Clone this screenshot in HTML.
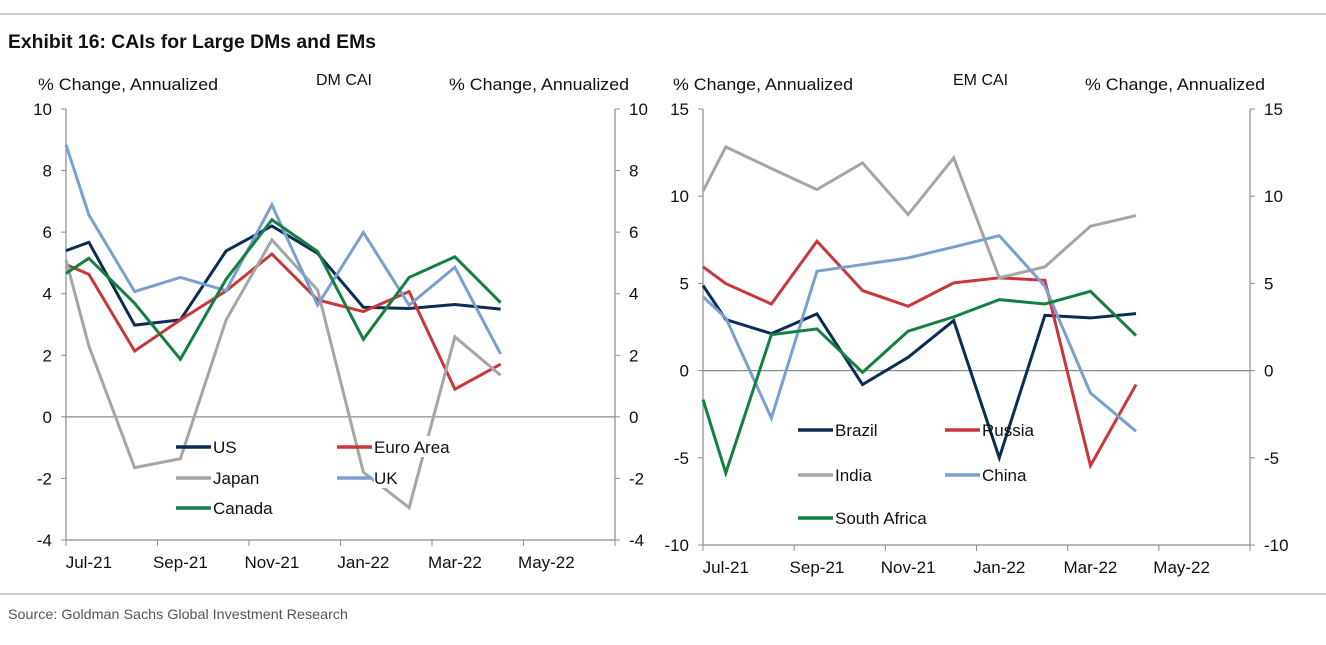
<!DOCTYPE html>
<html><head><meta charset="utf-8"><style>
body{margin:0;background:#fff;}
svg text{font-family:"Liberation Sans",sans-serif;}
</style></head><body>
<svg id="c" width="1326" height="640" viewBox="0 0 1326 640" xmlns="http://www.w3.org/2000/svg">
<line x1="0" y1="14" x2="1326" y2="14" stroke="#999" stroke-width="1"/>
<text x="8" y="48" font-size="19" font-weight="bold" fill="#111" textLength="368" lengthAdjust="spacingAndGlyphs">Exhibit 16: CAIs for Large DMs and EMs</text>
<line x1="0" y1="594" x2="1326" y2="594" stroke="#999" stroke-width="1"/>
<text x="8" y="619" font-size="14" fill="#555" textLength="340" lengthAdjust="spacingAndGlyphs">Source: Goldman Sachs Global Investment Research</text>
<g id="g"></g>
</svg>
<script>
const months = ["Jul-21","Aug-21","Sep-21","Oct-21","Nov-21","Dec-21","Jan-22","Feb-22","Mar-22","Apr-22","May-22","Jun-22"];
const xIdx = [-0.5,0,1,2,3,4,5,6,7,8,9];
const dmUS = [5.4,5.67,2.98,3.15,5.39,6.2,5.31,3.56,3.52,3.65,3.5];
const dmEuro = [4.95,4.63,2.14,3.15,4.09,5.29,3.8,3.42,4.07,0.9,1.71];
const dmJapan = [5.1,2.3,-1.65,-1.36,3.15,5.75,4.12,-1.8,-2.95,2.6,1.35];
const dmUK = [8.84,6.56,4.07,4.53,4.1,6.89,3.63,5.99,3.63,4.86,2.04];
const dmCanada = [4.66,5.15,3.69,1.87,4.47,6.4,5.37,2.52,4.53,5.2,3.71];
const emBrazil = [4.88,2.93,2.12,3.25,-0.8,0.76,2.87,-5.0,3.17,3.02,3.27];
const emRussia = [5.95,4.99,3.82,7.42,4.59,3.69,5.03,5.32,5.18,-5.45,-0.8];
const emIndia = [10.29,12.83,11.59,10.38,11.91,8.95,12.2,5.32,5.95,8.28,8.89];
const emChina = [4.23,3.02,-2.72,5.7,6.08,6.46,7.09,7.74,4.84,-1.28,-3.48];
const emSA = [-1.66,-5.87,2.06,2.39,-0.1,2.26,3.08,4.07,3.82,4.55,2.01];
const dmTicks = [10,8,6,4,2,0,-2,-4];
const emTicks = [15,10,5,0,-5,-10];

const NS="http://www.w3.org/2000/svg";
const G=document.getElementById('g');
function mk(tag,attrs,parent){const e=document.createElementNS(NS,tag);for(const k in attrs)e.setAttribute(k,attrs[k]);(parent||G).appendChild(e);return e;}

function chart(cfg){
  const {x0,x1,y0,y1,vmax,vmin,ticks,series,title,titleX,lt,rt,legend,name,mask}=cfg;
  const g=mk('g',{});
  
  
  const X=i=>x0+(i+0.5)/12*(x1-x0);
  const Y=v=>y0+(vmax-v)/(vmax-vmin)*(y1-y0);
  let t;
  t=mk('text',{x:lt,y:90,'font-size':17,fill:'#111',textLength:180,lengthAdjust:'spacingAndGlyphs'},g);t.textContent='% Change, Annualized';
  
  t=mk('text',{x:rt,y:90,'font-size':17,fill:'#111',textLength:180,lengthAdjust:'spacingAndGlyphs'},g);t.textContent='% Change, Annualized';
  
  t=mk('text',{x:titleX,y:85,'font-size':16,fill:'#111'},g);t.textContent=title;
  
  let a=mk('line',{x1:x0,y1:y0,x2:x0,y2:y1,stroke:'#8c8c8c','stroke-width':1.2},g);
  
  a=mk('line',{x1:x1,y1:y0,x2:x1,y2:y1,stroke:'#8c8c8c','stroke-width':1.2},g);
  
  a=mk('line',{x1:x0,y1:y1,x2:x1,y2:y1,stroke:'#8c8c8c','stroke-width':1.2},g);
  
  a=mk('line',{x1:x0,y1:Y(0),x2:x1,y2:Y(0),stroke:'#8c8c8c','stroke-width':1.2},g);
  
  ticks.forEach(v=>{
    const y=Y(v);
    mk('line',{x1:x0-5,y1:y,x2:x0,y2:y,stroke:'#8c8c8c'},g);
    mk('line',{x1:x1,y1:y,x2:x1+5,y2:y,stroke:'#8c8c8c'},g);
    let l=mk('text',{x:x0-14,y:y+6,'font-size':17,fill:'#111','text-anchor':'end'},g);l.textContent=v;
    
    l=mk('text',{x:x1+14,y:y+6,'font-size':17,fill:'#111'},g);l.textContent=v;
    
  });
  for(let k=0;k<=6;k++){const x=X(-0.5+2*k);mk('line',{x1:x,y1:y1,x2:x,y2:y1+6,stroke:'#8c8c8c'},g);}
  months.forEach((m,i)=>{ if(i%2)return;
    const l=mk('text',{x:X(i),y:y1+28,'font-size':17,fill:'#111','text-anchor':'middle'},g);l.textContent=m;
    
  });
  series.forEach(s=>{
    const p=mk('polyline',{points:s.v.map((v,k)=>X(xIdx[k])+','+Y(v)).join(' '),fill:'none',stroke:s.c,'stroke-width':3,'stroke-linejoin':'miter'},g);
    
    
  });
  legend.forEach(L=>{
    const s=series[L.i];
    if(mask) mk('rect',{x:L.x+37,y:L.y-11,width:s.label.length*9.5,height:21,fill:'#fff'},g);
    const l=mk('line',{x1:L.x,y1:L.y,x2:L.x+35,y2:L.y,stroke:s.c,'stroke-width':3.5},g);
    
    const tt=mk('text',{x:L.x+37,y:L.y+6,'font-size':17,fill:'#111'},g);tt.textContent=s.label;
    
  });
}
chart({name:'dm-cai-panel',mask:true,x0:66,x1:615,y0:109,y1:540,vmax:10,vmin:-4,ticks:dmTicks,title:'DM CAI',titleX:316,lt:38,rt:449,
 series:[{v:dmUS,c:'#0b2d55',n:'line-us',label:'US'},{v:dmEuro,c:'#c8383a',n:'line-euro-area',label:'Euro Area'},
 {v:dmJapan,c:'#a6a6a6',n:'line-japan',label:'Japan'},{v:dmUK,c:'#7a9fd0',n:'line-uk',label:'UK'},{v:dmCanada,c:'#128040',n:'line-canada',label:'Canada'}],
 legend:[{i:0,x:176,y:447},{i:1,x:337,y:447},{i:2,x:176,y:478},{i:3,x:337,y:478},{i:4,x:176,y:508}]});
chart({name:'em-cai-panel',mask:false,x0:703,x1:1250,y0:109,y1:545,vmax:15,vmin:-10,ticks:emTicks,title:'EM CAI',titleX:953,lt:673,rt:1085,
 series:[{v:emBrazil,c:'#0b2d55',n:'line-brazil',label:'Brazil'},{v:emRussia,c:'#c8383a',n:'line-russia',label:'Russia'},
 {v:emIndia,c:'#a6a6a6',n:'line-india',label:'India'},{v:emChina,c:'#7a9fd0',n:'line-china',label:'China'},{v:emSA,c:'#128040',n:'line-south-africa',label:'South Africa'}],
 legend:[{i:0,x:798,y:430},{i:1,x:945,y:430},{i:2,x:798,y:475},{i:3,x:945,y:475},{i:4,x:798,y:518}]});
</script>
</body></html>
